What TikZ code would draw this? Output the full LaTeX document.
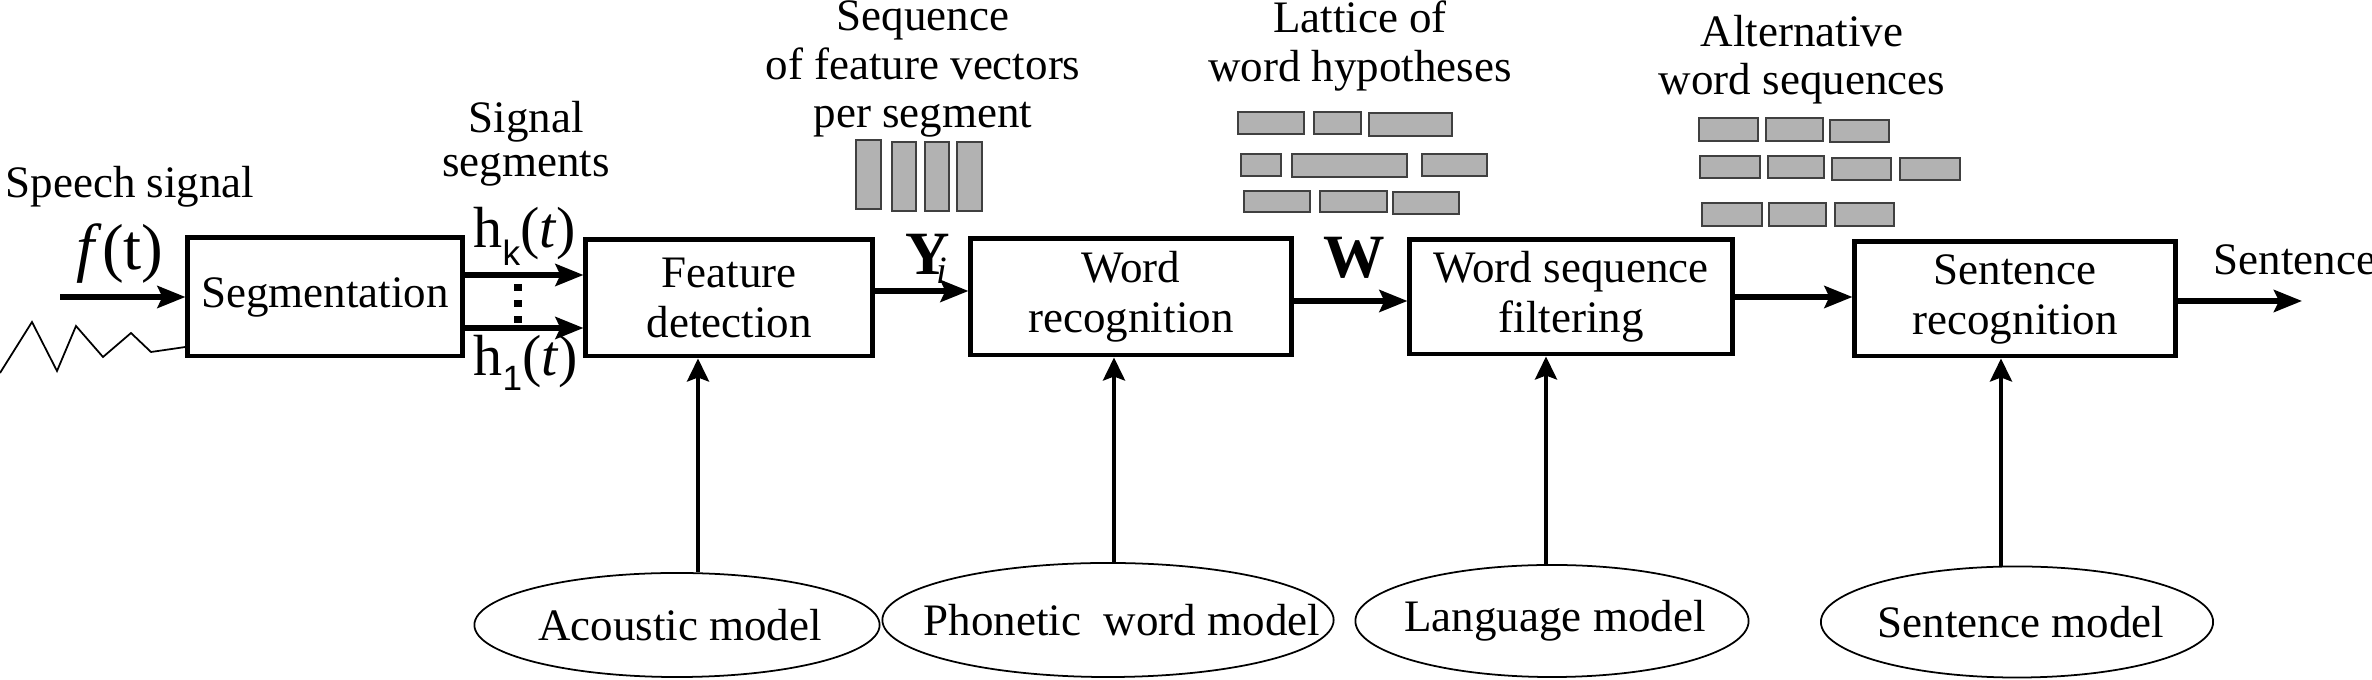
\documentclass[tikz,border=0pt]{standalone}
\usepackage{fontspec}
\setmainfont{Liberation Serif}
\newfontfamily\subsf{Liberation Sans}
\usetikzlibrary{arrows.meta,shapes.geometric}
\begin{document}
\begin{tikzpicture}[x=0.01cm,y=-0.01cm,
  every node/.style={font=\fontsize{12.8}{14.2}\selectfont, inner sep=0pt},
  block/.style={draw, line width=1.4pt, align=center},
  model/.style={draw, ellipse, line width=0.5pt},
  harr/.style={line width=1.5pt, -{Stealth[length=0.28cm,width=0.22cm,inset=0.05cm]}},
  varr/.style={line width=1.1pt, -{Stealth[length=0.23cm,width=0.22cm,inset=0.04cm]}},
  cell/.style={fill=black!30, draw=black!75, line width=0.6pt},
  wave/.style={line width=0.5pt},
  lbl/.style={align=center, anchor=base},
  big/.style={font=\fontsize{16.5}{18}\selectfont},
  bold/.style={font=\fontsize{17.5}{18}\selectfont\bfseries}]
\useasboundingbox (0,0) rectangle (2372,680);

% blocks
\node[block, minimum width=2.74cm, minimum height=1.18cm] (seg) at (325,297) {Segmentation};
\node[block, minimum width=2.86cm, minimum height=1.16cm] (feat) at (729,298) {Feature\\detection};
\node[block, minimum width=3.2cm, minimum height=1.16cm] (wrec) at (1131,297) {Word\\recognition};
\node[block, minimum width=3.22cm, minimum height=1.14cm] (wsf) at (1571,297) {Word sequence\\filtering};
\node[block, minimum width=3.2cm, minimum height=1.14cm] (srec) at (2015,299) {Sentence\\recognition};

% models
\node[model, minimum width=4.05cm, minimum height=1.04cm] (ac) at (677,625) {\makebox[0pt]{\hspace*{0.06cm}Acoustic model}};
\node[model, minimum width=4.51cm, minimum height=1.14cm] (ph) at (1108,620) {\makebox[0pt]{\hspace*{0.28cm}Phonetic\ \ word model}};
\node[model, minimum width=3.93cm, minimum height=1.12cm] (lm) at (1552,621) {\makebox[0pt]{\hspace*{0.06cm}Language model}};
\node[model, minimum width=3.92cm, minimum height=1.11cm] (sm) at (2017,622) {\makebox[0pt]{\hspace*{0.08cm}Sentence model}};

% vertical arrows
\coordinate (xa) at (698,0);
\coordinate (xp) at (1114,0);
\coordinate (xl) at (1546,0);
\coordinate (xs) at (2001,0);
\draw[varr] (ac.north -| xa) -- (feat.south -| xa);
\draw[varr] (ph.north -| xp) -- (wrec.south -| xp);
\draw[varr] (lm.north -| xl) -- (wsf.south -| xl);
\draw[varr] (sm.north -| xs) -- (srec.south -| xs);

% horizontal arrows
\coordinate (in) at (60,297);
\coordinate (hky) at (0,275);
\coordinate (h1y) at (0,328);
\coordinate (yiy) at (0,291);
\coordinate (wy) at (0,301);
\coordinate (out) at (2302,301);
\draw[harr] (in) -- (seg.west);
\draw[harr] (seg.east |- hky) -- (feat.west |- hky);
\draw[harr] (seg.east |- h1y) -- (feat.west |- h1y);
\draw[harr] (feat.east |- yiy) -- (wrec.west |- yiy);
\draw[harr] (wrec.east |- wy) -- (wsf.west |- wy);
\draw[harr] (wsf.east) -- (srec.west |- wsf.east);
\draw[harr] (srec.east |- out) -- (out);

% dots between segment arrows
\draw[line width=2.2pt, dash pattern=on 2pt off 2.6pt] (518,284) -- (518,323);

% speech waveform
\coordinate (wv) at (0,347);
\draw[wave] (0,373) -- (32,322) -- (57,371) -- (76,326) -- (103,357) -- (131,333) -- (151,352) -- (seg.west |- wv);

% labels (anchor base = baseline of the last line)
\node[anchor=base west] (sp) at (5,198) {Speech signal};
\node[font=\fontsize{18.5}{20}\selectfont] (ft) at (120,254) {\textit{f}(t)};
\node[lbl, font=\fontsize{12.8}{12.6}\selectfont] (sg) at (526,177) {Signal\\segments};
\node[big, anchor=base west] (hk) at (473,248) {h\raisebox{-5pt}{\subsf\fontsize{10}{10}\selectfont k}(\textit{t})};
\node[big, anchor=base west] (h1) at (473,376) {h\raisebox{-4pt}{\subsf\fontsize{10}{10}\selectfont 1}(\textit{t})};
\node[lbl, font=\fontsize{12.8}{13.9}\selectfont] (seq) at (923,128) {Sequence\\of feature vectors\\per segment};
\node[lbl] (lat) at (1360,82) {Lattice of\\word hypotheses};
\node[lbl, font=\fontsize{12.8}{13.9}\selectfont] (alt) at (1802,95) {Alternative\\word sequences};
\node[bold, anchor=base west] (yi) at (905,275) {Y\kern-4pt\raisebox{-2.3pt}{\fontsize{11}{11}\selectfont\mdseries\itshape i}};
\node[bold, anchor=base west] (w) at (1323,278) {W};
\node[anchor=base west] (sent) at (2213,275) {Sentence};

% feature vectors
\draw[cell] (856,140) rectangle (881,209);
\draw[cell] (892,142) rectangle (916,211);
\draw[cell] (925,142) rectangle (949,211);
\draw[cell] (957,142) rectangle (982,211);

% lattice of word hypotheses
\draw[cell] (1238,112) rectangle (1304,134);
\draw[cell] (1314,112) rectangle (1361,134);
\draw[cell] (1369,113) rectangle (1452,136);
\draw[cell] (1241,154) rectangle (1281,176);
\draw[cell] (1292,154) rectangle (1407,177);
\draw[cell] (1422,154) rectangle (1487,176);
\draw[cell] (1244,191) rectangle (1310,212);
\draw[cell] (1320,191) rectangle (1387,212);
\draw[cell] (1393,192) rectangle (1459,214);

% alternative word sequences
\draw[cell] (1699,118) rectangle (1758,141);
\draw[cell] (1766,118) rectangle (1823,141);
\draw[cell] (1830,120) rectangle (1889,142);
\draw[cell] (1700,156) rectangle (1760,178);
\draw[cell] (1768,156) rectangle (1824,178);
\draw[cell] (1832,158) rectangle (1891,180);
\draw[cell] (1900,158) rectangle (1960,180);
\draw[cell] (1702,203) rectangle (1762,226);
\draw[cell] (1769,203) rectangle (1826,226);
\draw[cell] (1835,203) rectangle (1894,226);
\end{tikzpicture}
\end{document}
